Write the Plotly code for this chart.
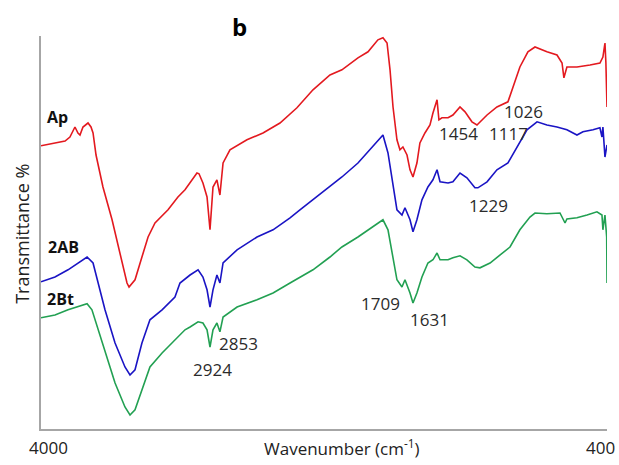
import plotly.graph_objects as go

# ---- data (wavenumber in cm-1, transmittance in arbitrary %) ----
ap_wn = [4000, 3911, 3847, 3816, 3784, 3765, 3752, 3733, 3701, 3682, 3669, 3650, 3606, 3548, 3498,
         3453, 3440, 3402, 3358, 3319, 3275, 3192, 3129, 3084, 3008, 2995, 2970, 2944, 2925, 2906,
         2881, 2862, 2842, 2798, 2690, 2588, 2480, 2372, 2270, 2162, 2086, 1984, 1920, 1857, 1825,
         1799, 1780, 1761, 1736, 1717, 1698, 1672, 1653, 1634, 1609, 1590, 1558, 1526, 1507, 1481,
         1469, 1450, 1411, 1380, 1335, 1303, 1259, 1227, 1163, 1100, 1030, 998, 954, 903, 858,
         782, 718, 686, 674, 655, 591, 508, 445, 426, 413, 407, 400]
ap_t = [70.8, 71.5, 72.0, 73.0, 75.5, 74.0, 73.5, 75.5, 76.5, 75.5, 74.0, 68.5, 60.5, 52.3, 44.0,
        36.5, 35.5, 37.3, 43.0, 48.0, 51.5, 54.8, 58.0, 59.8, 64.0, 63.8, 61.5, 58.0, 49.8, 60.5,
        62.3, 58.5, 66.5, 69.8, 72.3, 74.0, 76.5, 80.3, 84.8, 88.5, 89.8, 92.8, 94.3, 97.3, 97.8,
        96.5, 89.8, 80.5, 72.3, 69.8, 70.5, 68.5, 64.8, 63.0, 66.5, 71.5, 74.0, 76.0, 79.0, 82.3,
        77.3, 77.8, 77.8, 78.5, 80.5, 79.3, 76.8, 76.0, 78.5, 80.5, 81.8, 85.5, 90.5, 94.3, 95.5,
        94.3, 93.5, 91.5, 87.8, 90.5, 90.5, 91.0, 91.5, 93.0, 96.5, 91.5, 80.5]

ab_wn = [4000, 3911, 3828, 3765, 3707, 3669, 3637, 3593, 3529, 3466, 3434, 3402, 3358, 3307, 3230,
         3148, 3116, 3052, 3001, 2970, 2944, 2925, 2906, 2881, 2862, 2842, 2753, 2626, 2524, 2416,
         2353, 2270, 2162, 2086, 1984, 1895, 1825, 1793, 1761, 1736, 1704, 1685, 1653, 1634, 1609,
         1577, 1539, 1507, 1481, 1462, 1411, 1380, 1335, 1291, 1240, 1221, 1163, 1100, 1030, 973,
         909, 845, 782, 718, 655, 591, 553, 489, 445, 432, 426, 413, 400]
ab_t = [36.8, 38.0, 39.8, 41.5, 43.0, 41.5, 36.5, 29.8, 21.5, 15.5, 13.5, 14.8, 21.5, 27.3, 29.8,
        33.0, 36.5, 38.5, 39.8, 38.0, 34.8, 30.5, 34.8, 38.5, 36.5, 41.5, 44.8, 48.0, 49.8, 52.8,
        54.8, 57.3, 60.5, 63.0, 66.5, 70.3, 73.5, 69.0, 60.5, 54.8, 53.5, 55.3, 52.3, 49.3, 52.3,
        57.3, 60.5, 62.3, 64.8, 61.8, 61.5, 61.8, 64.0, 62.8, 60.3, 60.3, 61.8, 64.8, 66.5, 70.5,
        74.8, 76.8, 76.0, 75.5, 74.8, 73.5, 74.3, 74.8, 75.3, 73.0, 75.5, 68.0, 71.0]

bt_wn = [4000, 3911, 3828, 3765, 3707, 3676, 3637, 3580, 3529, 3466, 3434, 3402, 3358, 3307, 3230,
         3148, 3084, 3052, 3001, 2970, 2944, 2925, 2906, 2881, 2862, 2842, 2753, 2626, 2524, 2416,
         2270, 2162, 2086, 1984, 1895, 1825, 1793, 1761, 1736, 1704, 1685, 1653, 1634, 1609, 1577,
         1539, 1507, 1481, 1462, 1411, 1380, 1335, 1291, 1240, 1208, 1144, 1062, 1017, 954, 890,
         858, 782, 699, 667, 655, 591, 527, 464, 432, 426, 413, 402, 400]
bt_t = [27.8, 28.5, 29.8, 30.5, 31.3, 29.8, 24.8, 18.0, 11.5, 5.5, 3.5, 4.8, 9.8, 15.5, 19.0,
        22.3, 24.8, 25.5, 26.8, 26.5, 24.8, 20.5, 24.8, 26.5, 24.3, 28.0, 30.5, 32.3, 34.0, 36.5,
        39.8, 43.0, 45.5, 48.0, 50.5, 52.3, 49.8, 43.0, 37.3, 35.5, 37.3, 34.0, 31.5, 34.0, 38.0,
        41.5, 42.3, 44.0, 42.3, 42.3, 42.8, 43.3, 42.3, 40.5, 40.3, 41.5, 44.0, 45.5, 49.8, 53.0,
        54.0, 53.8, 54.0, 51.5, 52.5, 52.8, 53.5, 54.3, 53.5, 49.8, 53.5, 48.0, 36.5]

series_names = ["Ap", "2AB", "2Bt"]
series_colors = ["#e3191f", "#1a14c4", "#22a052"]

peak_labels = ["2853", "2924", "1709", "1631", "1229", "1454", "1117", "1026"]
peak_label_wn = [2741, 2912, 1838, 1526, 1151, 1342, 1024, 934]
peak_label_t = [21.3, 15.0, 31.3, 27.3, 56.0, 73.8, 73.8, 79.5]

name_label_wn = [3898, 3860, 3873]
name_label_t = [78.0, 45.5, 32.5]

FONT = "Open Sans"

fig = go.Figure()
for wn, t, name, col in zip([ap_wn, ab_wn, bt_wn], [ap_t, ab_t, bt_t], series_names, series_colors):
    fig.add_trace(go.Scatter(x=wn, y=t, mode="lines", name=name,
                             line=dict(color=col, width=1.6), showlegend=False))

annotations = []
for txt, x, y in zip(peak_labels, peak_label_wn, peak_label_t):
    annotations.append(dict(x=x, y=y, xref="x", yref="y", text=txt, showarrow=False,
                            xanchor="center", yanchor="middle",
                            font=dict(family=FONT, size=17, color="#2b2b2b")))
for txt, x, y in zip(series_names, name_label_wn, name_label_t):
    annotations.append(dict(x=x, y=y, xref="x", yref="y", text="<b>" + txt + "</b>", showarrow=False,
                            xanchor="center", yanchor="middle",
                            font=dict(family=FONT, size=16, color="#111111")))

# axis labels / tick labels / panel letter
annotations += [
    dict(x=0.532, y=-0.048, xref="paper", yref="paper", text="Wavenumber (cm<sup>-1</sup>)",
         font=dict(family=FONT, size=17, color="#222222")),
    dict(x=-0.035, y=0.497, xref="paper", yref="paper", text="Transmittance %", textangle=-90,
         font=dict(family=FONT, size=18, color="#222222")),
    dict(x=0.0124, y=-0.048, xref="paper", yref="paper", text="4000",
         font=dict(family=FONT, size=17, color="#222222")),
    dict(x=0.988, y=-0.048, xref="paper", yref="paper", text="400",
         font=dict(family=FONT, size=17, color="#222222")),
    dict(x=0.35, y=1.025, xref="paper", yref="paper", text="<b>b</b>",
         font=dict(family=FONT, size=24, color="#000000")),
]
for a in annotations[-5:]:
    a.update(showarrow=False, xanchor="center", yanchor="middle")

fig.update_layout(
    width=619, height=465,
    margin=dict(l=41, r=12, t=36, b=36),
    paper_bgcolor="white", plot_bgcolor="white",
    annotations=annotations,
    hovermode=False,
    xaxis=dict(range=[4000, 400], showgrid=False, zeroline=False, showticklabels=False,
               ticks="", showline=True, linecolor="#a6a6a6", linewidth=1.5),
    yaxis=dict(range=[0, 98.25], showgrid=False, zeroline=False, showticklabels=False,
               ticks="", showline=True, linecolor="#a6a6a6", linewidth=1.5),
)

# remove the default 8px page margin so the figure fills the window exactly
fig.write_html("out.html", config={"displayModeBar": False},
               post_script="document.body.style.margin='0px';document.body.style.overflow='hidden';")
